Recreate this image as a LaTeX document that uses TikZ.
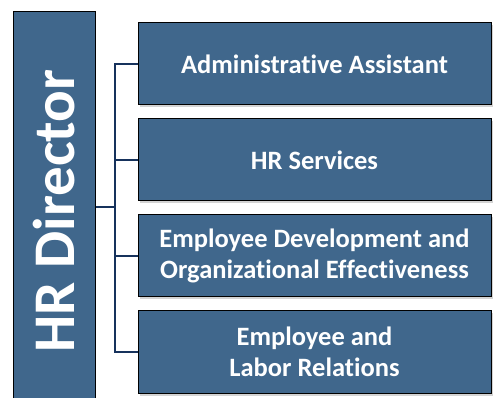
\documentclass[tikz,border=0pt]{standalone}
\usepackage{fontspec}
\setmainfont{Carlito}[Ligatures=NoCommon]
\usetikzlibrary{positioning,shadows}
\definecolor{boxblue}{RGB}{64,103,140}
\definecolor{linknavy}{RGB}{22,50,92}

\begin{document}
\begin{tikzpicture}[x=1pt,y=-1pt,
    unit/.style={draw=black, line width=1pt, fill=boxblue, text=white,
      font=\bfseries\fontsize{26.5}{31}\selectfont, align=center,
      minimum width=353pt, minimum height=82pt, inner sep=0pt,
      drop shadow={shadow xshift=2pt, shadow yshift=-2.5pt, opacity=0.35}},
    head/.style={draw=black, line width=1pt, fill=boxblue, text=white,
      font=\bfseries\fontsize{59}{63}\selectfont,
      minimum width=82pt, minimum height=398pt, inner sep=0pt},
    link/.style={draw=linknavy, line width=1.6pt}]
    \useasboundingbox (0,0) rectangle (493,398);
    % left column
    \node[head] (director) at (54,211) {\rotatebox{90}{HR Director}};
    % units
    \node[unit] (admin) at (314.5,64) {Administrative Assistant};
    \node[unit, below=13pt of admin] (services) {HR Services};
    \node[unit, below=13pt of services] (develop) {Employee Development and\\Organizational Effectiveness};
    \node[unit, below=13pt of develop] (labor) {Employee and\\Labor Relations};
    % connectors
    \coordinate (spine) at (115,207);
    \draw[link] (admin.west) -- (admin.west -| spine) -- (labor.west -| spine) -- (labor.west);
    \draw[link] (services.west) -- (services.west -| spine);
    \draw[link] (develop.west) -- (develop.west -| spine);
    \draw[link] (spine -| director.east) -- (spine);
  \end{tikzpicture}
\end{document}
